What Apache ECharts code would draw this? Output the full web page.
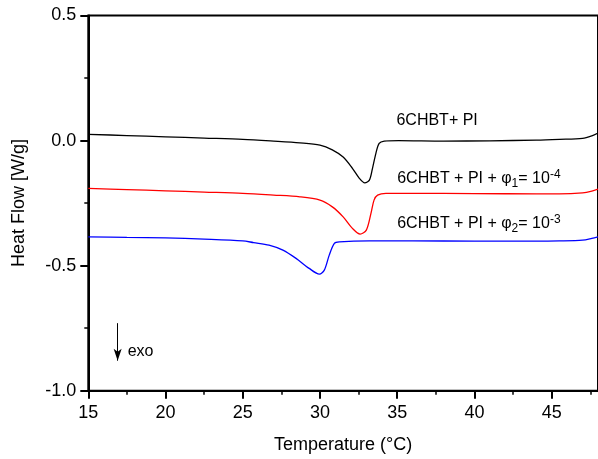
<!DOCTYPE html>
<html>
<head>
<meta charset="utf-8">
<title>DSC 6CHBT</title>
<script src="https://cdn.jsdelivr.net/npm/echarts@6/dist/echarts.min.js"></script>
<style>
html, body { margin: 0; padding: 0; background: #fff; }
#chart { width: 598px; height: 459px; }
</style>
</head>
<body>
<div id="chart"></div>
<script>
// 6CHBT + PI
var tempBlack = [15, 17.5, 20, 22.5, 25, 27, 28.7, 30, 30.8, 31.5, 32.1, 32.55, 32.9, 33.2, 33.4, 33.62, 33.83, 34.16, 35.1, 38, 41, 44, 45.5, 47, 47.6, 48];
var flowBlack = [0.025, 0.020, 0.015, 0.010, 0.005, -0.002, -0.009, -0.018, -0.037, -0.066, -0.111, -0.151, -0.169, -0.158, -0.111, -0.051, -0.011, -0.002, 0.000, -0.002, -0.001, 0.002, 0.005, 0.009, 0.019, 0.030];
// 6CHBT + PI + phi1 = 1e-4
var tempRed = [15, 17.5, 20, 22.5, 25, 27, 28.7, 30, 30.8, 31.5, 32.1, 32.6, 33.0, 33.3, 33.5, 33.73, 34.27, 36, 40, 44, 45.5, 47, 47.6, 48];
var flowRed = [-0.191, -0.196, -0.201, -0.206, -0.211, -0.218, -0.225, -0.238, -0.265, -0.305, -0.351, -0.374, -0.358, -0.291, -0.238, -0.218, -0.211, -0.211, -0.212, -0.213, -0.213, -0.209, -0.202, -0.194];
// 6CHBT + PI + phi2 = 1e-3
var tempBlue = [15, 17.5, 20, 22.5, 25, 25.7, 26.7, 27.6, 28.45, 29.3, 29.96, 30.28, 30.6, 30.93, 31.25, 33.2, 36, 40, 44, 45.5, 47, 47.6, 48];
var flowBlue = [-0.385, -0.387, -0.389, -0.394, -0.401, -0.408, -0.418, -0.438, -0.471, -0.511, -0.534, -0.518, -0.458, -0.411, -0.405, -0.401, -0.401, -0.402, -0.402, -0.401, -0.398, -0.391, -0.385];

var xMajorTicks = [15, 20, 25, 30, 35, 40, 45];
var xMinorTicks = [17.5, 22.5, 27.5, 32.5, 37.5, 42.5, 47.5];

var curveLabels = ['6CHBT+ PI', '6CHBT + PI + \u03c6{sub|1}= 10{sup|-4}', '6CHBT + PI + \u03c6{sub|2}= 10{sup|-3}'];
var labelAnchors = [[34.95, 0.078], [35.0, -0.153], [35.0, -0.333]];
var exoArrow = [[16.9, -0.73], [16.9, -0.88]];
var exoAnchor = [17.55, -0.843];

var font = 'Liberation Sans, Arial, sans-serif';

function pairs(xs, ys) {
    return xs.map(function (x, i) { return [x, ys[i]]; });
}

var chart = echarts.init(document.getElementById('chart'));

var option = {
    animation: false,
    backgroundColor: '#fff',
    grid: {
        left: 88.3, right: 0, top: 15.5, bottom: 68.3,
        show: true, borderColor: '#000', borderWidth: 2
    },
    xAxis: [{
        type: 'value', min: 15, max: 48, interval: 5,
        name: 'Temperature (\u00b0C)', nameLocation: 'middle', nameGap: 45,
        nameTextStyle: { fontSize: 18, color: '#000', fontFamily: font },
        axisLine: { onZero: false, lineStyle: { color: '#000', width: 2 } },
        axisTick: { inside: false, length: 8, customValues: xMajorTicks, lineStyle: { color: '#000', width: 2 } },
        axisLabel: { customValues: xMajorTicks, fontSize: 18, color: '#000', fontFamily: font, margin: 13 },
        splitLine: { show: false }
    }, {
        // minor ticks only
        type: 'value', min: 15, max: 48, position: 'bottom', offset: 0,
        axisLine: { show: false, onZero: false },
        axisTick: { inside: false, length: 4, customValues: xMinorTicks, lineStyle: { color: '#000', width: 1.5 } },
        axisLabel: { show: false },
        splitLine: { show: false }
    }],
    yAxis: {
        type: 'value', min: -1.0, max: 0.5, interval: 0.5,
        name: 'Heat Flow [W/g]', nameLocation: 'middle', nameGap: 60,
        nameTextStyle: { fontSize: 18, color: '#000', fontFamily: font },
        axisLine: { onZero: false, lineStyle: { color: '#000', width: 2 } },
        axisTick: { inside: false, length: 8, lineStyle: { color: '#000', width: 2 } },
        minorTick: { show: true, splitNumber: 2, length: 4, lineStyle: { color: '#000', width: 1.5 } },
        axisLabel: {
            fontSize: 18, color: '#000', fontFamily: font, margin: 12,
            formatter: function (v) { return v.toFixed(1); }
        },
        splitLine: { show: false },
        minorSplitLine: { show: false }
    },
    series: [{
        name: 'black', type: 'line', showSymbol: false, smooth: 0.3,
        data: pairs(tempBlack, flowBlack),
        lineStyle: { color: '#000', width: 1.3 }
    }, {
        name: 'red', type: 'line', showSymbol: false, smooth: 0.3,
        data: pairs(tempRed, flowRed),
        lineStyle: { color: '#ff0000', width: 1.3 }
    }, {
        name: 'blue', type: 'line', showSymbol: false, smooth: 0.3,
        data: pairs(tempBlue, flowBlue),
        lineStyle: { color: '#0000ff', width: 1.3 },
        markLine: {
            silent: true,
            symbol: ['none', 'arrow'],
            symbolSize: [6, 12],
            label: { show: false },
            lineStyle: { color: '#000', width: 1, type: 'solid' },
            data: [[{ coord: exoArrow[0] }, { coord: exoArrow[1] }]]
        }
    }]
};
chart.setOption(option);

// text annotations placed through the axes
var rich = {
    sub: { fontSize: 12, lineHeight: 12, verticalAlign: 'bottom', fontFamily: font, fill: '#000' },
    sup: { fontSize: 12, lineHeight: 12, verticalAlign: 'top', fontFamily: font, fill: '#000' }
};
var graphics = curveLabels.map(function (t, i) {
    var p = chart.convertToPixel({ xAxisIndex: 0, yAxisIndex: 0 }, labelAnchors[i]);
    return {
        type: 'text', x: p[0], y: p[1], silent: true,
        style: {
            text: t, fill: '#000', fontSize: 16, fontFamily: font, lineHeight: 21,
            align: 'left', verticalAlign: 'middle', rich: rich
        }
    };
});
var ep = chart.convertToPixel({ xAxisIndex: 0, yAxisIndex: 0 }, exoAnchor);
graphics.push({
    type: 'text', x: ep[0], y: ep[1], silent: true,
    style: { text: 'exo', fill: '#000', fontSize: 16, fontFamily: font, align: 'left', verticalAlign: 'middle' }
});
chart.setOption({ graphic: graphics });
</script>
</body>
</html>
